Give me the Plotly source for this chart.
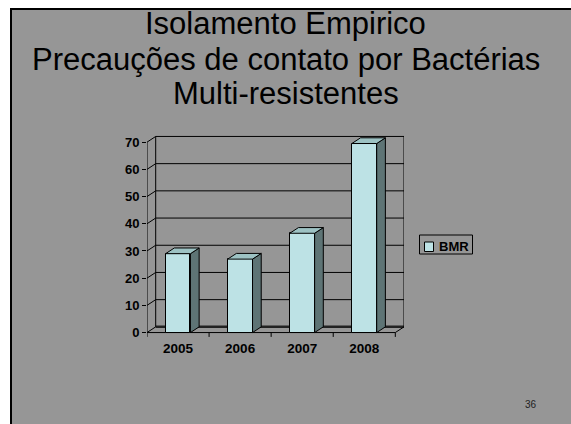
import plotly.graph_objects as go

# ---- data ----
years = ["2005", "2006", "2007", "2008"]
bmr = [29, 27, 36.5, 69.5]
y_ticks = [0, 10, 20, 30, 40, 50, 60, 70]
series_name = "BMR"
title_lines = ["Isolamento Empirico", "Precauções de contato por Bactérias", "Multi-resistentes"]
page_number = "36"

# ---- geometry / style ----
W, H = 571, 424
ML, MR, MT, MB = 147, 167, 134, 86
X0, X1 = -0.5, 3.64
Y0, Y1 = -2.0, 73.0
DX, DY = 0.14, 2.1          # 3D depth offset in data units
BW = 0.40                    # bar width
FRONT = "#BDE2E5"
SIDE = "#5E7475"
TOP = "#9DC2C3"
BG = "#969696"
FONT = "Liberation Sans, Arial, sans-serif"

pw = W - ML - MR
ph = H - MT - MB


def px_x(p):
    return (p - ML) / pw


def px_y(p):
    return (H - MB - p) / ph


xs = list(range(len(years)))
fig = go.Figure()

# front faces (real bars)
fig.add_trace(go.Bar(
    x=xs, y=bmr, width=BW, name=series_name,
    marker=dict(color=FRONT, line=dict(color="black", width=1)),
    showlegend=False, hoverinfo="skip",
))

# side faces and top faces computed from the data
sx, sy, tx, ty = [], [], [], []
for c, v in zip(xs, bmr):
    r = c + BW / 2
    l = c - BW / 2
    sx += [r, r, r + DX, r + DX, r, None]
    sy += [0, v, v + DY, DY, 0, None]
    tx += [l, r, r + DX, l + DX, l, None]
    ty += [v, v, v + DY, v + DY, v, None]
fig.add_trace(go.Scatter(x=sx, y=sy, mode="lines", fill="toself", fillcolor=SIDE,
                         line=dict(color="black", width=1), showlegend=False, hoverinfo="skip"))
fig.add_trace(go.Scatter(x=tx, y=ty, mode="lines", fill="toself", fillcolor=TOP,
                         line=dict(color="black", width=1), showlegend=False, hoverinfo="skip"))

shapes = []
# white page strips outside the slide and the slide's black border
shapes.append(dict(type="rect", xref="paper", yref="paper", layer="above",
                   x0=px_x(-5), x1=px_x(W + 5), y0=px_y(8), y1=px_y(-5),
                   fillcolor="white", line=dict(width=0)))
shapes.append(dict(type="rect", xref="paper", yref="paper", layer="above",
                   x0=px_x(-5), x1=px_x(10), y0=px_y(H + 5), y1=px_y(-5),
                   fillcolor="white", line=dict(width=0)))
shapes.append(dict(type="line", xref="paper", yref="paper", layer="above",
                   x0=px_x(10), x1=px_x(W + 5), y0=px_y(9), y1=px_y(9),
                   line=dict(color="black", width=2)))
shapes.append(dict(type="line", xref="paper", yref="paper", layer="above",
                   x0=px_x(11), x1=px_x(11), y0=px_y(8), y1=px_y(H + 5),
                   line=dict(color="black", width=2)))


def seg(xa, ya, xb, yb, w=1, col="black"):
    shapes.append(dict(type="line", xref="x", yref="y", layer="below",
                       x0=xa, y0=ya, x1=xb, y1=yb, line=dict(color=col, width=w)))


bl, br = -0.5 + DX, len(years) - 0.5 + DX
# back wall gridlines
for v in y_ticks[1:]:
    seg(bl, v + DY, br, v + DY)
    seg(-0.5, v, bl, v + DY)          # left wall diagonal
seg(bl, DY, br, DY, w=2.5, col="#222")  # floor back edge
seg(-0.5, 0, bl, DY)
seg(bl, DY, bl, y_ticks[-1] + DY)      # back wall left edge
seg(br, DY, br, y_ticks[-1] + DY)      # back wall right edge
# front axes
seg(-0.5, 0, -0.5, y_ticks[-1])
seg(-0.5, 0, len(years) - 0.5, 0)
seg(len(years) - 0.5, 0, br, DY)
# x tick marks
for k in range(len(years) + 1):
    seg(k - 0.5, 0, k - 0.5, -1.6)

# legend drawn manually
shapes.append(dict(type="rect", xref="paper", yref="paper",
                   x0=px_x(419.5), x1=px_x(472.5), y0=px_y(254), y1=px_y(235),
                   line=dict(color="black", width=1), fillcolor=BG))
shapes.append(dict(type="rect", xref="paper", yref="paper",
                   x0=px_x(424.5), x1=px_x(433.5), y0=px_y(251.5), y1=px_y(242),
                   line=dict(color="black", width=1), fillcolor=FRONT))

annotations = []
for i, t in enumerate(title_lines):
    annotations.append(dict(text=t, xref="paper", yref="paper", x=px_x(285.5),
                            y=px_y([24, 59.5, 93][i]), xanchor="center", yanchor="middle",
                            showarrow=False, font=dict(family=FONT, size=31, color="black")))
annotations.append(dict(text="<b>" + series_name + "</b>", xref="paper", yref="paper",
                        x=px_x(437), y=px_y(246.5), xanchor="left", yanchor="middle",
                        showarrow=False, font=dict(family=FONT, size=13, color="black")))
annotations.append(dict(text=page_number, xref="paper", yref="paper",
                        x=px_x(531), y=px_y(404), xanchor="center", yanchor="middle",
                        showarrow=False, font=dict(family=FONT, size=10, color="#222")))

fig.update_layout(
    width=W, height=H, autosize=False,
    margin=dict(l=ML, r=MR, t=MT, b=MB, pad=0, autoexpand=False),
    paper_bgcolor=BG, plot_bgcolor="rgba(0,0,0,0)",
    showlegend=False, bargap=0,
    shapes=shapes, annotations=annotations,
    font=dict(family=FONT, color="black"),
    xaxis=dict(range=[X0, X1], tickvals=xs, ticktext=["<b>%s</b>" % y for y in years],
               showgrid=False, zeroline=False, showline=False, ticks="",
               tickfont=dict(size=13.5), fixedrange=True),
    yaxis=dict(range=[Y0, Y1], tickvals=y_ticks, ticktext=["<b>%d</b>" % v for v in y_ticks],
               showgrid=False, zeroline=False, showline=False, ticks="outside",
               ticklen=4, tickcolor="black", tickwidth=1,
               tickfont=dict(size=13), fixedrange=True),
)

fig.write_html("out.html", config={"displayModeBar": False},
               post_script="document.body.style.margin='0';")
